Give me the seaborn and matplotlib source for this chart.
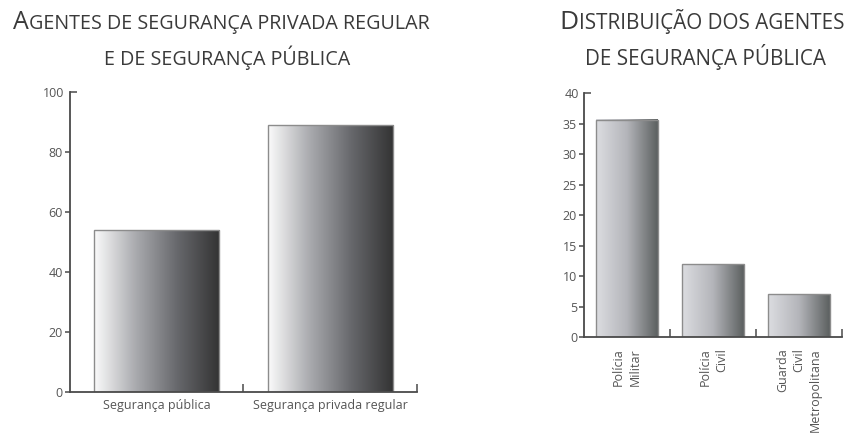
import numpy as np
import pandas as pd
import matplotlib
matplotlib.use('Agg')
import matplotlib.pyplot as plt
import seaborn as sns
from matplotlib.colors import LinearSegmentedColormap

# data
left_categories = ['Segurança pública', 'Segurança privada regular']
left_values = [54, 89]

right_categories = ['Polícia\nMilitar', 'Polícia\nCivil', 'Guarda\nCivil\nMetropolitana']
right_values = [35.6, 11.9, 7.0]

sns.set_style('white')
plt.rcParams['font.family'] = ['Open Sans', 'DejaVu Sans']

AXIS_COLOR = '#4a4a4a'
TEXT_COLOR = '#3a3a3a'
TICK_COLOR = '#555555'

fig = plt.figure(figsize=(8.46, 4.34), dpi=100)
ax_left = fig.add_axes([0.0822, 0.0968, 0.4106, 0.6912])
ax_right = fig.add_axes([0.6903, 0.2235, 0.3050, 0.5622])

left_cmap = LinearSegmentedColormap.from_list('l', ['#fbfbfb', '#a9aaae', '#66676b', '#333333'])
right_cmap = LinearSegmentedColormap.from_list('r', ['#dcdde1', '#b4b5ba', '#5c6060'])


def draw_bars(ax, cats, vals, cmap):
    df = pd.DataFrame({'cat': cats, 'val': vals})
    sns.barplot(data=df, x='cat', y='val', ax=ax, width=0.72,
                facecolor='none', edgecolor='#8c8c8c', linewidth=1.0)
    grad = np.linspace(0, 1, 256).reshape(1, -1)
    for p in ax.patches:
        x0, y0 = p.get_x(), p.get_y()
        w, h = p.get_width(), p.get_height()
        ax.imshow(grad, extent=[x0, x0 + w, y0, y0 + h], aspect='auto',
                  cmap=cmap, zorder=1, interpolation='bilinear')
        p.set_zorder(2)
    ax.set_xlabel('')
    ax.set_ylabel('')
    for s in ['top', 'right']:
        ax.spines[s].set_visible(False)
    for s in ['left', 'bottom']:
        ax.spines[s].set_color(AXIS_COLOR)
        ax.spines[s].set_linewidth(1.3)


draw_bars(ax_left, left_categories, left_values, left_cmap)
draw_bars(ax_right, right_categories, right_values, right_cmap)

# left axes ticks
ax_left.set_xlim(-0.5, 1.5)
ax_left.set_ylim(0, 100)
ax_left.set_yticks([0, 20, 40, 60, 80])
ax_left.set_yticks([100], labels=['100'], minor=True)
ax_left.set_xticks([0.5, 1.5], minor=True)

# right axes ticks
ax_right.set_xlim(-0.5, 2.5)
ax_right.set_ylim(0, 40)
ax_right.set_yticks([0, 5, 10, 15, 20, 25, 30, 35])
ax_right.set_yticks([40], labels=['40'], minor=True)
ax_right.set_xticks([0.5, 1.5, 2.5], minor=True)

for ax in (ax_left, ax_right):
    ax.tick_params(axis='y', which='major', left=True, direction='out', length=3.5,
                   width=1.1, color=AXIS_COLOR, labelcolor=TICK_COLOR,
                   labelsize=9, pad=1.5)
    ax.tick_params(axis='y', which='minor', left=True, direction='in', length=5,
                   width=1.1, color=AXIS_COLOR, labelcolor=TICK_COLOR,
                   labelsize=9, pad=3.5)
    ax.tick_params(axis='x', which='major', bottom=False, length=0,
                   labelcolor=TICK_COLOR, labelsize=9, pad=5)
    ax.tick_params(axis='x', which='minor', bottom=True, direction='in', length=6,
                   width=1.1, color=AXIS_COLOR)

ax_right.tick_params(axis='x', which='major', pad=8)
for lab in ax_right.get_xticklabels():
    lab.set_rotation(90)
    lab.set_multialignment('right')
    lab.set_linespacing(1.35)


def smallcaps_line(pieces, cx, y_px):
    # pieces: list of (text, size); drawn one after another, centred at cx (pixels)
    renderer = fig.canvas.get_renderer()
    texts = []
    widths = []
    for txt, size in pieces:
        t = fig.text(0, 0, txt, fontsize=size, color=TEXT_COLOR,
                     va='baseline', ha='left')
        widths.append(t.get_window_extent(renderer).width)
        texts.append(t)
    total = sum(widths)
    x = cx - total / 2
    for t, w in zip(texts, widths):
        t.set_position((x / 846, 1 - y_px / 434))
        x += w


smallcaps_line([('A', 18), ('GENTES DE SEGURANÇA PRIVADA REGULAR', 14.2)], 221, 29)
smallcaps_line([('E DE SEGURANÇA PÚBLICA', 14.2)], 227, 65)
smallcaps_line([('D', 19), ('ISTRIBUIÇÃO DOS AGENTES', 14.9)], 702, 29)
smallcaps_line([('DE SEGURANÇA PÚBLICA', 14.9)], 705, 65)

fig.savefig('out.png', dpi=100)
